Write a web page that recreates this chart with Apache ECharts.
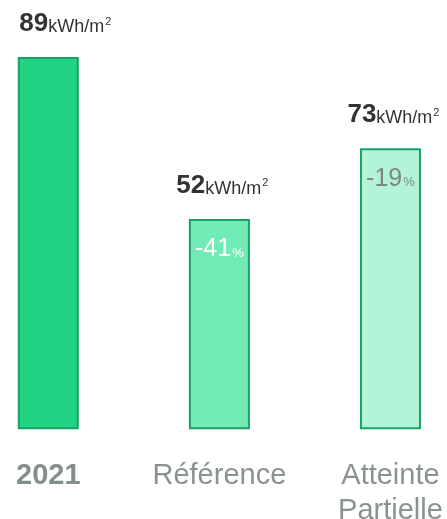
<!DOCTYPE html>
<html>
<head>
<meta charset="utf-8">
<script src="https://cdn.jsdelivr.net/npm/echarts@6/dist/echarts.min.js"></script>
<style>
html,body{margin:0;padding:0;background:#fff;}
#chart{width:447px;height:519px;}
</style>
</head>
<body>
<div id="chart"></div>
<script>
// Data
var categories = ['2021', 'Référence', 'Atteinte\nPartielle'];
var labelValues = [89, 52, 73];          // values printed above the bars (kWh/m²)
var barHeights = [89, 50.3, 67.2];       // bar heights as drawn in the picture
var changeLabels = [null, '-41', '-19']; // % change printed inside the bars
var unitText = 'kWh/m';

var fills = ['#22d384', '#72ecb6', '#b3f4d8'];
var insideColors = ['#ffffff', '#ffffff', '#7d8883'];
var labelOffsets = [[17, 0], [3, 0], [3, 0]];

var chart = echarts.init(document.getElementById('chart'), null, {renderer: 'canvas'});

var seriesData = barHeights.map(function (h, i) {
  return {
    value: h,
    itemStyle: {color: fills[i], borderColor: '#1aa163', borderWidth: 2},
    label: {color: insideColors[i]}
  };
});

var topLabelData = barHeights.map(function (h, i) {
  return {
    value: h,
    label: {offset: labelOffsets[i]}
  };
});

var option = {
  animation: false,
  backgroundColor: '#ffffff',
  grid: {left: -37.25, right: -29, top: 57, bottom: 89.7, containLabel: false, outerBoundsMode: 'none'},
  xAxis: {
    type: 'category',
    data: categories,
    axisLine: {show: false},
    axisTick: {show: false},
    axisLabel: {
      interval: 0,
      margin: 29,
      fontFamily: 'Liberation Sans, Arial, sans-serif',
      fontSize: 29,
      lineHeight: 35,
      color: '#8a948f',
      formatter: function (v, i) {
        return i === 0 ? '{b|' + v + '}' : v;
      },
      rich: {
        b: {fontWeight: 'bold', fontSize: 29, lineHeight: 35, color: '#858f8a', fontFamily: 'Liberation Sans, Arial, sans-serif'}
      }
    }
  },
  yAxis: {
    type: 'value',
    min: 0,
    max: 89,
    show: false,
    splitLine: {show: false}
  },
  series: [
    {
      type: 'bar',
      barWidth: 61,
      data: seriesData,
      label: {
        show: true,
        position: 'insideTop',
        distance: 17,
        fontFamily: 'Liberation Sans, Arial, sans-serif',
        formatter: function (p) {
          var c = changeLabels[p.dataIndex];
          if (!c) return '';
          return '{n|' + c + '}{p|%}';
        },
        rich: {
          n: {fontSize: 25, verticalAlign: 'bottom', lineHeight: 26},
          p: {fontSize: 13, verticalAlign: 'bottom', lineHeight: 13, padding: [0, 0, 2, 1]}
        },
        color: '#ffffff'
      },
      z: 2
    },
    {
      type: 'bar',
      barWidth: 61,
      barGap: '-100%',
      data: topLabelData,
      itemStyle: {color: 'rgba(0,0,0,0)'},
      silent: true,
      label: {
        show: true,
        position: 'top',
        distance: 20,
        fontFamily: 'Liberation Sans, Arial, sans-serif',
        formatter: function (p) {
          return '{v|' + labelValues[p.dataIndex] + '}{u|' + unitText + '}{s|2}';
        },
        rich: {
          v: {fontSize: 26, fontWeight: 'bold', color: '#333333', verticalAlign: 'bottom', lineHeight: 26},
          u: {fontSize: 18, color: '#333333', verticalAlign: 'bottom', lineHeight: 18, padding: [0, 0, 1, 0]},
          s: {fontSize: 11, color: '#333333', verticalAlign: 'bottom', lineHeight: 11, padding: [0, 0, 10, 1]}
        }
      },
      z: 3
    }
  ]
};

chart.setOption(option);
</script>
</body>
</html>
